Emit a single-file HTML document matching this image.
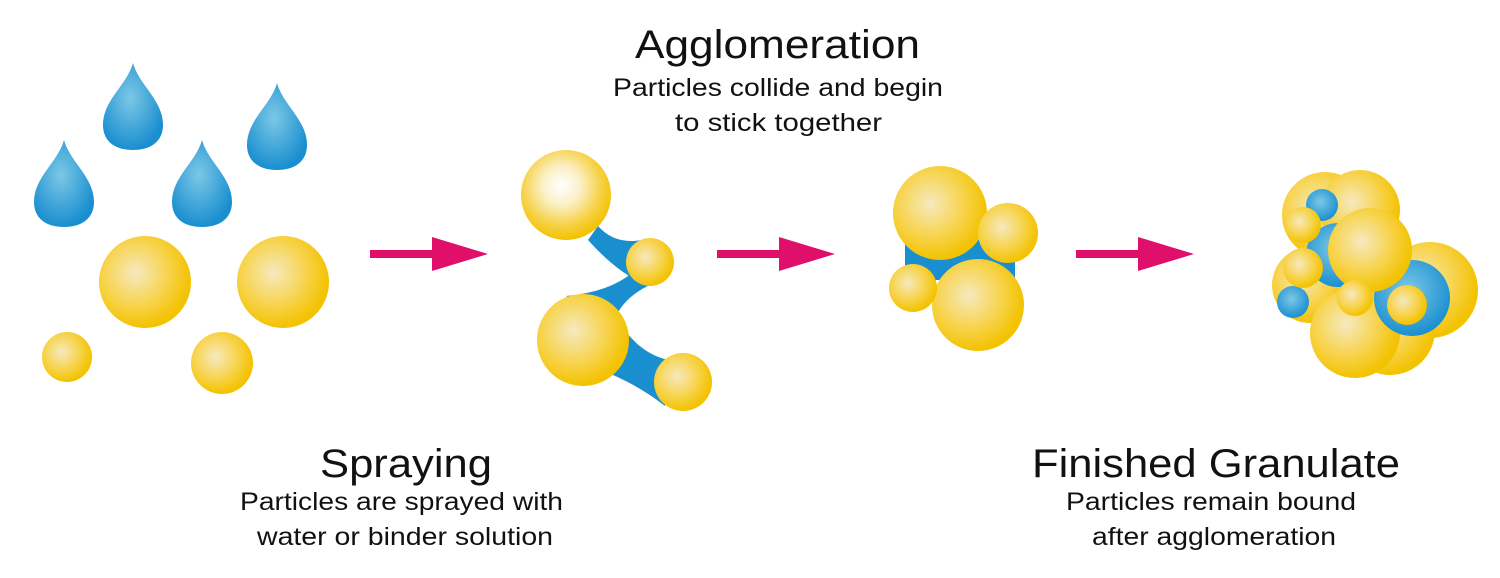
<!DOCTYPE html>
<html><head><meta charset="utf-8"><style>
html,body{margin:0;padding:0;background:#fff;}
svg{display:block;}
text{font-family:"Liberation Sans",Arial,sans-serif;fill:#111;}
</style></head><body>
<svg width="1500" height="578" viewBox="0 0 1500 578" xmlns="http://www.w3.org/2000/svg">
<defs>
<radialGradient id="y" cx="0.4" cy="0.4" r="0.6">
<stop offset="0" stop-color="#f6e9c0"/><stop offset="0.6" stop-color="#f7d34a"/><stop offset="1" stop-color="#f3c200"/>
</radialGradient>
<radialGradient id="b" cx="0.45" cy="0.4" r="0.6">
<stop offset="0" stop-color="#7cc8e6"/><stop offset="1" stop-color="#1a8fd0"/>
</radialGradient>
<radialGradient id="hl" cx="0.45" cy="0.4" r="0.6">
<stop offset="0" stop-color="#ffffff"/><stop offset="0.35" stop-color="#fbf0c8"/><stop offset="0.75" stop-color="#f6d040"/><stop offset="1" stop-color="#f3c200"/>
</radialGradient>
<g id="drop"><path d="M0,-57 C6,-35 30,-20 30,5 C30,22 17,30 0,30 C-17,30 -30,22 -30,5 C-30,-20 -6,-35 0,-57Z" fill="url(#b)"/></g>
<g id="arrow"><rect x="0" y="-4" width="65" height="8" fill="#e0106a"/><path d="M62,-17 L118,0 L62,17Z" fill="#e0106a"/></g>
</defs>

<use href="#drop" x="133" y="120"/>
<use href="#drop" x="64" y="197"/>
<use href="#drop" x="202" y="197"/>
<use href="#drop" x="277" y="140"/>
<circle cx="145" cy="282" r="46" fill="url(#y)"/>
<circle cx="283" cy="282" r="46" fill="url(#y)"/>
<circle cx="67" cy="357" r="25" fill="url(#y)"/>
<circle cx="222" cy="363" r="31" fill="url(#y)"/>

<use href="#arrow" x="370" y="254"/>
<use href="#arrow" x="717" y="254"/>
<use href="#arrow" x="1076" y="254"/>

<!-- cluster 2 -->
<path d="M598,226 Q615,245 642,240 L652,286 Q622,278 588,240 Z" fill="#1a8fd0"/>
<path d="M633,272 Q610,292 566,296 L615,318 Q625,296 652,284 Z" fill="#1a8fd0"/>
<path d="M616,316 Q635,352 668,360 L665,406 Q640,386 606,372 Z" fill="#1a8fd0"/>
<circle cx="566" cy="195" r="45" fill="url(#hl)"/>
<circle cx="650" cy="262" r="24" fill="url(#y)"/>
<circle cx="583" cy="340" r="46" fill="url(#y)"/>
<circle cx="683" cy="382" r="29" fill="url(#y)"/>

<!-- cluster 3 -->
<rect x="905" y="240" width="110" height="40" fill="#1a8fd0"/>
<circle cx="940" cy="213" r="47" fill="url(#y)"/>
<circle cx="1008" cy="233" r="30" fill="url(#y)"/>
<circle cx="978" cy="305" r="46" fill="url(#y)"/>
<circle cx="913" cy="288" r="24" fill="url(#y)"/>

<!-- cluster 4 -->
<circle cx="1325" cy="215" r="43" fill="url(#y)"/>
<circle cx="1360" cy="210" r="40" fill="url(#y)"/>
<circle cx="1430" cy="290" r="48" fill="url(#y)"/>
<circle cx="1310" cy="285" r="38" fill="url(#y)"/>
<circle cx="1390" cy="330" r="45" fill="url(#y)"/>
<circle cx="1355" cy="333" r="45" fill="url(#y)"/>
<circle cx="1322" cy="205" r="16" fill="url(#b)"/>
<circle cx="1338" cy="255" r="32" fill="url(#b)"/>
<circle cx="1412" cy="298" r="38" fill="url(#b)"/>
<circle cx="1293" cy="302" r="16" fill="url(#b)"/>
<circle cx="1303" cy="225" r="18" fill="url(#y)"/>
<circle cx="1370" cy="250" r="42" fill="url(#y)"/>
<circle cx="1303" cy="268" r="20" fill="url(#y)"/>
<circle cx="1355" cy="298" r="18" fill="url(#y)"/>
<circle cx="1407" cy="305" r="20" fill="url(#y)"/>

<!-- text -->
<text x="635" y="58" font-size="40" textLength="285" lengthAdjust="spacingAndGlyphs">Agglomeration</text>
<text x="613" y="96" font-size="25" textLength="330" lengthAdjust="spacingAndGlyphs">Particles collide and begin</text>
<text x="675" y="131" font-size="25" textLength="207" lengthAdjust="spacingAndGlyphs">to stick together</text>
<text x="320" y="477" font-size="40" textLength="172" lengthAdjust="spacingAndGlyphs">Spraying</text>
<text x="240" y="510" font-size="25" textLength="323" lengthAdjust="spacingAndGlyphs">Particles are sprayed with</text>
<text x="257" y="545" font-size="25" textLength="296" lengthAdjust="spacingAndGlyphs">water or binder solution</text>
<text x="1032" y="477" font-size="40" textLength="368" lengthAdjust="spacingAndGlyphs">Finished Granulate</text>
<text x="1066" y="510" font-size="25" textLength="290" lengthAdjust="spacingAndGlyphs">Particles remain bound</text>
<text x="1092" y="545" font-size="25" textLength="244" lengthAdjust="spacingAndGlyphs">after agglomeration</text>
</svg>
</body></html>
